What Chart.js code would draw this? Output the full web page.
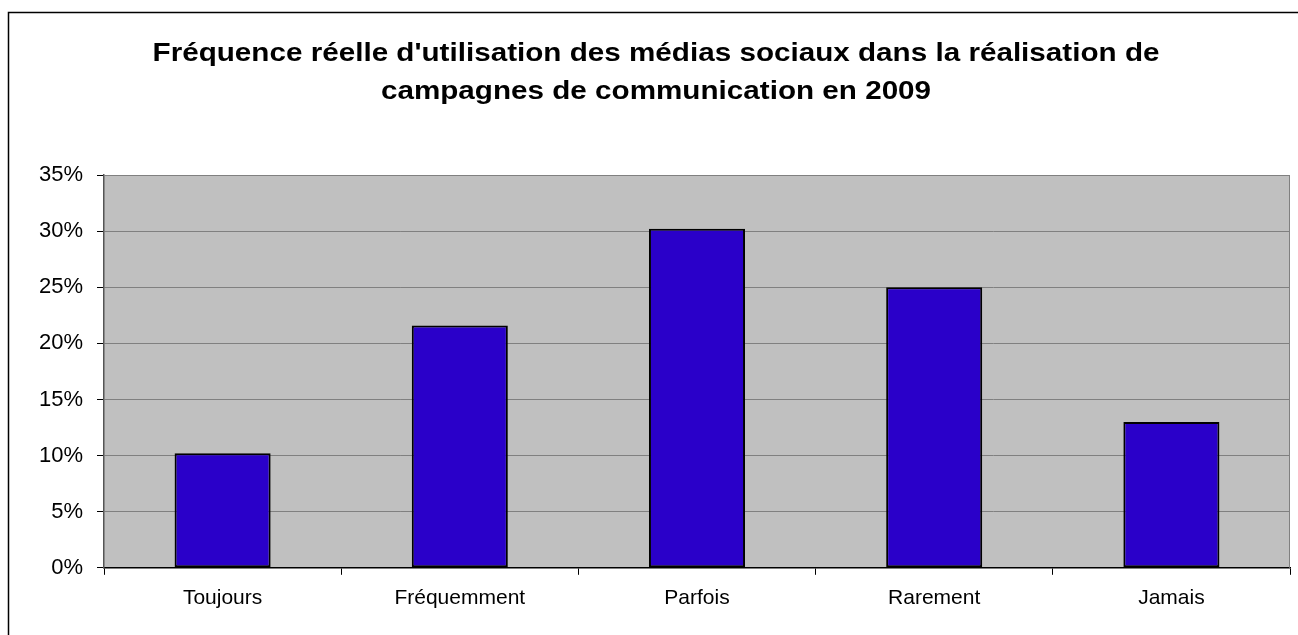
<!DOCTYPE html>
<html>
<head>
<meta charset="utf-8">
<script src="https://cdn.jsdelivr.net/npm/chart.js@4/dist/chart.umd.min.js"></script>
<style>
    html, body { margin: 0; padding: 0; background: #fff; }
    #wrap { width: 1298px; height: 635px; }
</style>
</head>
<body>
<div id="wrap"><canvas id="chart" width="1298" height="635"></canvas></div>
<script>
const categories = ['Toujours', 'Fréquemment', 'Parfois', 'Rarement', 'Jamais'];
const shares = [10.2, 21.6, 30.2, 25.0, 13.0];
const titleLines = [
    "Fréquence réelle d'utilisation des médias sociaux dans la réalisation de",
    'campagnes de communication en 2009'
];
const yMax = 35;
const yStep = 5;

const FONT = 'Liberation Sans, Arial, sans-serif';

// grey plot background, plot border, outer frame and the stretched title
const frame = {
    id: 'frame',
    beforeDraw(chart) {
        const ctx = chart.ctx;
        const a = chart.chartArea;
        ctx.save();
        ctx.fillStyle = '#fff';
        ctx.fillRect(0, 0, chart.width, chart.height);
        ctx.strokeStyle = '#000';
        ctx.lineWidth = 1.5;
        ctx.strokeRect(8.5, 12.5, 1400, 800);
        ctx.fillStyle = '#c0c0c0';
        ctx.fillRect(a.left, a.top, a.right - a.left, a.bottom - a.top);
        ctx.restore();
    },
    beforeDatasetsDraw(chart) {
        const ctx = chart.ctx;
        const a = chart.chartArea;
        ctx.save();
        ctx.strokeStyle = '#808080';
        ctx.lineWidth = 1;
        ctx.beginPath();
        ctx.moveTo(a.left, a.top + 0.5);
        ctx.lineTo(a.right - 0.5, a.top + 0.5);
        ctx.lineTo(a.right - 0.5, a.bottom);
        ctx.stroke();
        ctx.restore();
    },
    afterDraw(chart) {
        const ctx = chart.ctx;
        const sx = 1.14;
        ctx.save();
        ctx.fillStyle = '#000';
        ctx.font = 'bold 26px ' + FONT;
        ctx.textAlign = 'center';
        ctx.textBaseline = 'alphabetic';
        ctx.scale(sx, 1);
        titleLines.forEach((line, i) => {
            ctx.fillText(line, 656 / sx, 61 + i * 38);
        });
        ctx.restore();
    }
};

new Chart(document.getElementById('chart'), {
    type: 'bar',
    data: {
        labels: categories,
        datasets: [{
            data: shares,
            backgroundColor: '#2a00c9',
            borderColor: '#000',
            borderWidth: 2,
            borderSkipped: false,
            categoryPercentage: 1,
            barPercentage: 0.405
        }]
    },
    options: {
        responsive: false,
        animation: false,
        layout: { padding: { left: 0, right: 8, top: 175, bottom: 13 } },
        plugins: {
            legend: { display: false },
            tooltip: { enabled: false },
            title: { display: false }
        },
        scales: {
            x: {
                offset: true,
                grid: {
                    offset: true,
                    drawOnChartArea: false,
                    drawTicks: true,
                    tickLength: 7,
                    color: '#000'
                },
                border: { display: true, color: '#000', width: 1.5 },
                ticks: {
                    color: '#000',
                    padding: 11,
                    maxRotation: 0,
                    font: { family: FONT, size: 21 }
                }
            },
            y: {
                min: 0,
                max: yMax,
                afterFit(scale) { scale.width = 104; },
                grid: {
                    color: '#808080',
                    lineWidth: 1,
                    drawTicks: true,
                    tickLength: 7,
                    tickColor: '#000'
                },
                border: { display: true, color: '#555', width: 1.5 },
                ticks: {
                    stepSize: yStep,
                    color: '#000',
                    padding: 14,
                    font: { family: FONT, size: 22 },
                    callback: v => v + '%'
                }
            }
        }
    },
    plugins: [frame]
});
</script>
</body>
</html>
